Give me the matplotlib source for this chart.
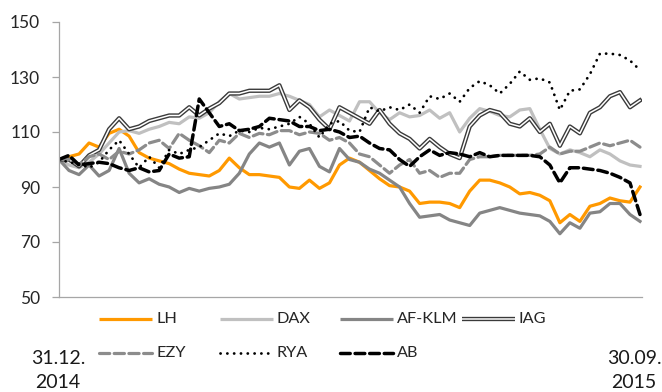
import numpy as np
import matplotlib
matplotlib.use("Agg")
import matplotlib.pyplot as plt
import matplotlib.patheffects as pe
from matplotlib.lines import Line2D

plt.rcParams['font.family'] = ['Lato', 'DejaVu Sans']

# indexed share prices, 31.12.2014 = 100, sampled across the period
LH = [100, 101, 102, 106, 104.5, 109.5, 111, 108.5, 102.5, 100.5,
      99.5, 98.5, 96.5, 95, 94.5, 94, 96, 100.5, 97, 94.5,
      94.5, 94, 93.5, 90, 89.5, 92.5, 89.5, 91.5, 98, 100.5,
      99, 96, 93, 90.5, 90, 88.5, 84, 84.5, 84.5, 84,
      82.5, 88.5, 92.5, 92.5, 91.5, 90, 87.5, 88, 87, 85,
      77, 80, 77.5, 83, 84, 86, 85, 84.5, 90]
DAX = [100, 98, 97, 99, 102, 106, 110, 110.5, 109.5, 111,
       112, 113.5, 113, 115.5, 115, 117, 121, 124, 122, 122.5,
       123, 123, 124, 123, 121.5, 120, 115.5, 118, 116, 114,
       121, 121, 117, 114.5, 117, 115.5, 116, 118, 115, 117,
       110, 115, 118.5, 117.5, 116, 115.5, 118, 118.5, 111, 104,
       102, 103.5, 102.5, 101, 103.5, 102, 99.5, 98, 97.5]
AF_KLM = [100, 96, 94.5, 98, 94, 96, 104, 95, 91.5, 93,
          91, 90, 88, 89.5, 88.5, 89.5, 90, 91, 95, 102,
          106, 104.5, 106, 98, 103, 104, 97.5, 95.5, 104, 100,
          99, 96.5, 95, 92.5, 90, 84, 79, 79.5, 80, 78,
          77, 76, 80.5, 81.5, 82.5, 81.5, 80.5, 80, 79.5, 77.5,
          73, 77, 75, 80.5, 81, 84, 84, 80, 77.5]
IAG = [100, 100, 97.5, 101.5, 103.5, 111, 115, 111, 112, 114,
       115, 116, 116, 119, 116, 118.5, 120.5, 124, 124, 125,
       125, 125, 127, 118, 121.5, 119, 114.5, 111, 119, 117,
       115, 113, 118, 113, 109.5, 107.5, 104, 107.5, 104.5, 102,
       100.5, 112, 116, 118, 117, 113, 112, 115, 110, 113,
       105, 112, 109.5, 117, 119, 123, 124.5, 119, 121.5]
EZY = [100, 100, 98, 101, 102, 100, 103, 102, 103.5, 106,
       107, 104, 109.5, 107, 105, 102.5, 107, 106, 109.5, 108,
       109.5, 109, 110.5, 110.5, 109, 110, 109.5, 107, 108, 106,
       102, 101, 98, 95, 98, 100, 95, 96, 93.5, 95,
       95, 100, 101, 101, 101.5, 101.5, 101.5, 101.5, 102, 104.5,
       102, 103, 103, 104.5, 106, 105, 106, 107, 104.5]
RYA = [100, 99, 98.5, 97, 99, 103.5, 107, 102, 97, 101,
       97, 103.5, 102, 103.5, 104.5, 107, 109.5, 108.5, 110.5, 110,
       111.5, 111, 112, 113, 115.5, 113, 108, 113, 114, 110.5,
       110, 119, 117.5, 119, 118, 120, 117, 123, 122, 124,
       121, 126, 128.5, 127, 124, 127.5, 132, 129, 129.5, 128,
       118, 125, 125.5, 131, 138.5, 138.5, 138, 136, 132.5]
AB = [100, 101.5, 98, 98.5, 99, 98.5, 97, 96, 97, 95.5,
      96, 102, 100.5, 101, 122, 117, 112, 113, 110.5, 111,
      112, 115, 114.5, 114, 112, 112, 110.5, 111, 110, 108,
      108.5, 106, 104, 103.5, 100, 97.5, 101, 103.5, 101.5, 102.5,
      102, 101, 102.5, 101, 101.5, 101.5, 101.5, 101.5, 101, 98,
      91.5, 97, 97, 96.5, 96, 95, 93.5, 91.5, 80]

yticks = [50, 70, 90, 110, 130, 150]
start_label = "31.12.\n2014"
end_label = "30.09.\n2015"

W, H = 662, 392
fig = plt.figure(figsize=(W / 100, H / 100), dpi=100)
ax = fig.add_axes([59 / W, 1 - 297 / H, (642 - 59) / W, (297 - 22) / H])

x = np.arange(len(LH))

# double line for IAG: dark outline with a white core
iag_fx = [pe.Stroke(linewidth=3.1, foreground='#3a3a3a'), pe.Normal()]

series = [
    ("LH", LH, dict(color='#FF9900', lw=2.3)),
    ("DAX", DAX, dict(color='#C0C0C0', lw=2.3)),
    ("AF-KLM", AF_KLM, dict(color='#858585', lw=2.3)),
    ("IAG", IAG, dict(color='white', lw=1.1, path_effects=iag_fx)),
    ("EZY", EZY, dict(color='#8C8C8C', lw=2.3, ls=(0, (3.2, 1.4)))),
    ("RYA", RYA, dict(color='black', lw=2.0, ls=(0, (0.05, 2.4)))),
    ("AB", AB, dict(color='black', lw=2.5, ls=(0, (2.8, 1.4)))),
]

for name, vals, style in series:
    ax.plot(x, vals, solid_joinstyle='round', dash_capstyle='round',
            **style)

ax.set_xlim(0, len(LH) - 1 + 0.2)
ax.set_ylim(50, 150)
ax.set_yticks(yticks)
ax.set_xticks([])
for s in ['top', 'right']:
    ax.spines[s].set_visible(False)
for s in ['left', 'bottom']:
    ax.spines[s].set_color('#A6A6A6')
    ax.spines[s].set_linewidth(0.9)
ax.tick_params(axis='y', length=5, width=0.9, color='#A6A6A6', pad=8.5,
               labelsize=12.5, labelcolor='#262626')

# legend laid out by hand in two rows under the plot
slots = {"LH": (99, 319), "DAX": (220, 319), "AF-KLM": (340, 319),
         "IAG": (462, 319), "EZY": (99, 353), "RYA": (220, 353),
         "AB": (340, 353)}
for name, vals, style in series:
    px, py = slots[name]
    yy = 1 - py / H
    ln = Line2D([px / W, (px + 53) / W], [yy, yy], transform=fig.transFigure,
                solid_capstyle='butt', dash_capstyle='round', **style)
    fig.add_artist(ln)
    fig.text((px + 57) / W, yy, name, fontsize=11.7, color='#262626',
             ha='left', va='center')

fig.text(58 / W, 1 - 371 / H, start_label, fontsize=14, color='#1a1a1a',
         ha='center', va='center', linespacing=1.5)
fig.text(634 / W, 1 - 371 / H, end_label, fontsize=14, color='#1a1a1a',
         ha='center', va='center', linespacing=1.5)

fig.savefig("out.png", dpi=100)
